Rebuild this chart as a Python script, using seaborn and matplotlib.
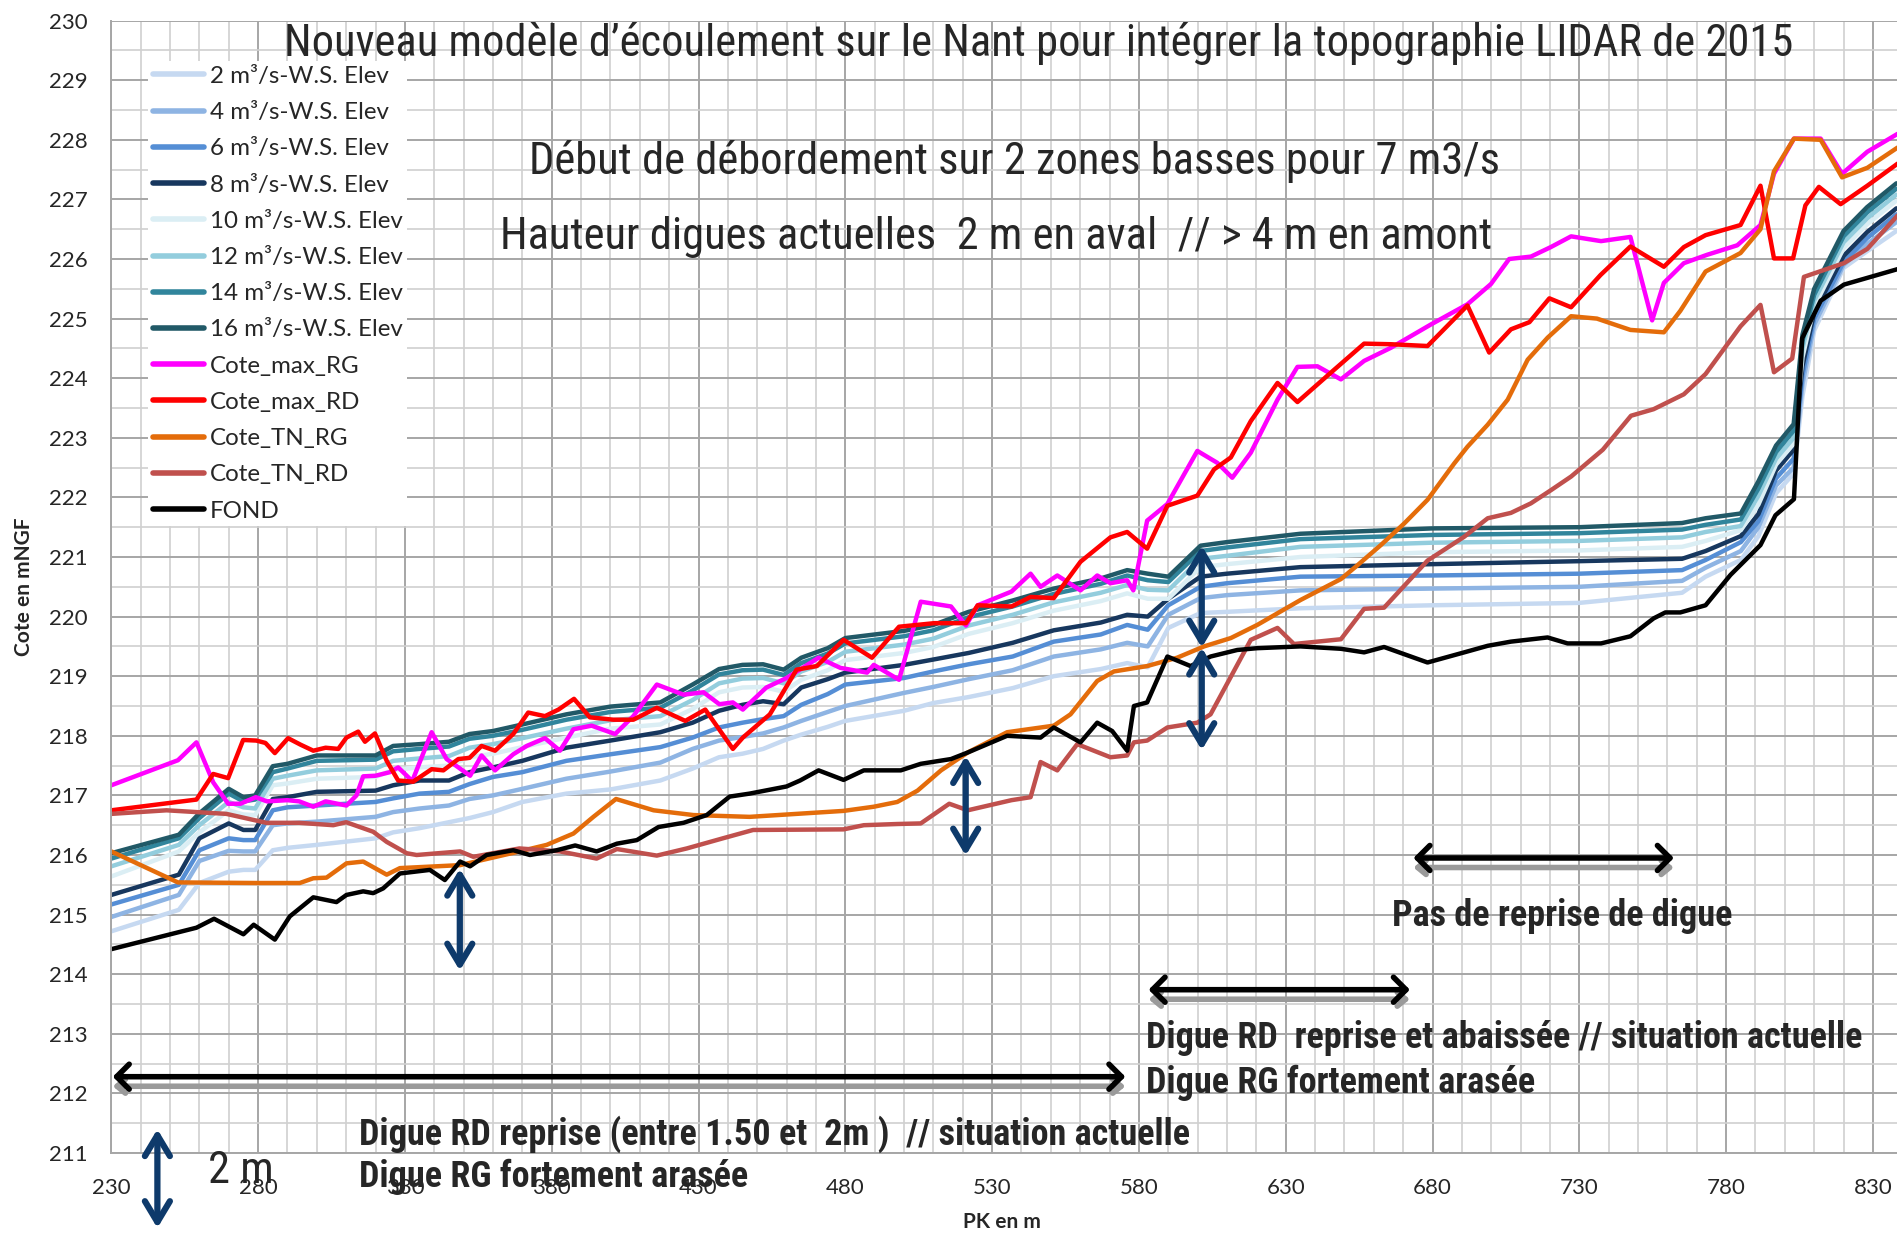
import matplotlib
matplotlib.use("Agg")
import matplotlib.pyplot as plt
import seaborn as sns
import numpy as np

# stations des lignes d'eau (HEC-RAS)
pk_ws = [230, 253, 260, 270, 275, 279, 285, 290, 300, 320,
         326, 335, 345, 352, 360, 370, 385, 400, 417, 428,
         437, 445, 452, 459, 465, 474, 480, 500, 510, 522,
         537, 551, 567, 576, 583, 590, 601, 610, 635, 680,
         730, 765, 773, 785, 791, 797, 803, 806, 810, 820,
         828, 838]

ws16 = [216.03, 216.34, 216.70, 217.11, 216.97, 217.00, 217.49, 217.53, 217.67, 217.67,
        217.83, 217.86, 217.90, 218.03, 218.08, 218.19, 218.36, 218.49, 218.56, 218.86,
        219.12, 219.19, 219.20, 219.11, 219.31, 219.47, 219.64, 219.76, 219.86, 220.08,
        220.27, 220.47, 220.64, 220.78, 220.72, 220.67, 221.19, 221.25, 221.39, 221.48,
        221.50, 221.57, 221.65, 221.73, 222.27, 222.87, 223.23, 224.73, 225.50, 226.47,
        226.87, 227.27]
ws14 = [215.94, 216.28, 216.62, 217.03, 216.90, 216.93, 217.39, 217.45, 217.58, 217.60,
        217.74, 217.78, 217.82, 217.95, 218.00, 218.10, 218.27, 218.40, 218.47, 218.76,
        219.03, 219.10, 219.11, 219.02, 219.22, 219.38, 219.55, 219.67, 219.77, 219.99,
        220.17, 220.38, 220.55, 220.69, 220.61, 220.58, 221.10, 221.16, 221.30, 221.37,
        221.40, 221.46, 221.54, 221.63, 222.15, 222.76, 223.12, 224.62, 225.40, 226.38,
        226.78, 227.18]
ws12 = [215.81, 216.17, 216.50, 216.89, 216.80, 216.78, 217.28, 217.33, 217.42, 217.45,
        217.58, 217.62, 217.66, 217.80, 217.86, 217.96, 218.12, 218.26, 218.33, 218.60,
        218.88, 218.96, 218.97, 218.88, 219.08, 219.24, 219.41, 219.53, 219.63, 219.85,
        220.03, 220.24, 220.40, 220.53, 220.45, 220.44, 220.97, 221.02, 221.17, 221.24,
        221.27, 221.33, 221.42, 221.52, 222.03, 222.65, 223.00, 224.50, 225.30, 226.28,
        226.68, 227.08]
ws10 = [215.64, 216.06, 216.38, 216.75, 216.68, 216.67, 217.17, 217.20, 217.28, 217.31,
        217.43, 217.47, 217.50, 217.64, 217.70, 217.81, 217.97, 218.12, 218.19, 218.45,
        218.73, 218.81, 218.82, 218.74, 218.94, 219.10, 219.27, 219.39, 219.49, 219.71,
        219.89, 220.10, 220.26, 220.39, 220.30, 220.30, 220.83, 220.88, 221.00, 221.08,
        221.11, 221.17, 221.27, 221.45, 221.88, 222.55, 222.90, 224.35, 225.20, 226.18,
        226.58, 226.98]
ws8 = [215.33, 215.67, 216.28, 216.53, 216.42, 216.42, 216.94, 216.97, 217.06, 217.08,
       217.17, 217.25, 217.25, 217.39, 217.47, 217.58, 217.80, 217.92, 218.06, 218.22,
       218.42, 218.52, 218.58, 218.53, 218.81, 218.95, 219.06, 219.19, 219.28, 219.39,
       219.56, 219.77, 219.90, 220.03, 220.00, 220.30, 220.67, 220.72, 220.83, 220.88,
       220.93, 220.97, 221.10, 221.35, 221.72, 222.45, 222.80, 224.20, 225.10, 226.05,
       226.45, 226.85]
ws6 = [215.17, 215.50, 216.08, 216.28, 216.25, 216.25, 216.75, 216.80, 216.83, 216.89,
       216.95, 217.03, 217.06, 217.19, 217.31, 217.39, 217.58, 217.69, 217.81, 217.97,
       218.14, 218.22, 218.28, 218.33, 218.52, 218.70, 218.86, 218.97, 219.08, 219.20,
       219.33, 219.58, 219.70, 219.86, 219.78, 220.19, 220.50, 220.56, 220.67, 220.69,
       220.72, 220.78, 220.95, 221.25, 221.60, 222.32, 222.65, 224.05, 225.00, 225.95,
       226.35, 226.75]
ws4 = [214.96, 215.33, 215.90, 216.07, 216.06, 216.06, 216.50, 216.53, 216.56, 216.64,
       216.72, 216.78, 216.83, 216.94, 217.00, 217.11, 217.28, 217.40, 217.55, 217.78,
       217.92, 217.98, 218.04, 218.14, 218.25, 218.40, 218.50, 218.72, 218.82, 218.95,
       219.10, 219.33, 219.45, 219.56, 219.50, 220.03, 220.31, 220.36, 220.44, 220.47,
       220.50, 220.60, 220.82, 221.10, 221.50, 222.20, 222.50, 223.90, 224.90, 225.90,
       226.25, 226.62]
ws2 = [214.72, 215.08, 215.53, 215.72, 215.75, 215.75, 216.08, 216.12, 216.17, 216.28,
       216.38, 216.45, 216.55, 216.62, 216.72, 216.89, 217.03, 217.10, 217.25, 217.45,
       217.64, 217.70, 217.78, 217.92, 218.02, 218.15, 218.25, 218.42, 218.55, 218.65,
       218.80, 219.00, 219.12, 219.22, 219.15, 219.81, 220.06, 220.08, 220.14, 220.19,
       220.23, 220.40, 220.67, 220.95, 221.35, 222.07, 222.40, 223.70, 224.80, 225.85,
       226.13, 226.47]

max_rg_pk = [230, 252.7, 259, 264.7, 269.8, 274, 279.2, 283, 290, 294,
             298.8, 303, 310.1, 313.5, 315.8, 320, 324.9, 327.7, 332.5, 339.1,
             344.2, 352.2, 356.1, 360.7, 366.9, 371.5, 377.7, 382.8, 387.4, 393.6,
             401.6, 407.8, 415.8, 424.9, 431.7, 437.1, 441.7, 445.1, 453.1, 460,
             470.9, 478.3, 487.4, 489.7, 498.3, 505.7, 516, 521.1, 525.1, 536.6,
             543.1, 546.5, 552.2, 560.1, 565.8, 570.3, 576, 578.1, 582.8, 589.7,
             599.9, 606.7, 611.8, 618.1, 627.2, 634, 640.8, 648.8, 656.7, 665.8,
             679.4, 691.9, 699.9, 706.1, 713.5, 720.3, 727.2, 737.4, 747.4, 754.8,
             758.8, 765.6, 773.5, 783.8, 791.7, 796.3, 803.1, 812.2, 819.5, 828.1,
             838.4]
max_rg = [217.17, 217.59, 217.89, 217.22, 216.86, 216.86, 216.97, 216.90, 216.92, 216.90,
          216.81, 216.90, 216.83, 217.00, 217.32, 217.33, 217.39, 217.47, 217.24, 218.06,
          217.61, 217.33, 217.67, 217.42, 217.69, 217.83, 217.96, 217.75, 218.11, 218.17,
          218.03, 218.33, 218.86, 218.69, 218.73, 218.53, 218.56, 218.44, 218.81, 218.97,
          219.31, 219.14, 219.06, 219.19, 218.94, 220.25, 220.17, 219.85, 220.19, 220.42,
          220.72, 220.50, 220.69, 220.44, 220.69, 220.56, 220.61, 220.44, 221.61, 221.89,
          222.78, 222.58, 222.33, 222.75, 223.64, 224.19, 224.20, 223.98, 224.29, 224.51,
          224.90, 225.24, 225.58, 226.00, 226.04, 226.20, 226.38, 226.30, 226.37, 224.97,
          225.60, 225.93, 226.07, 226.23, 226.57, 227.43, 228.02, 228.02, 227.43, 227.80,
          228.10]

max_rd_pk = [230, 259, 264.7, 269.8, 274.9, 279.4, 282.5, 285.7, 290.2, 294.5,
             298.8, 303, 307.3, 310.1, 314.1, 316.4, 319.8, 323.8, 327.7, 332.8,
             339.1, 343.1, 348.2, 352, 356.1, 360.7, 366.9, 372, 377.7, 382.3,
             387.6, 393, 401, 407.8, 415.8, 425.5, 432.3, 441.7, 445.1, 454.3,
             463.4, 470.3, 479.4, 489.1, 498.3, 510.3, 521.1, 525.1, 536.6, 543.1,
             551, 560.1, 570.3, 576, 582.8, 589.7, 599.9, 605.6, 611.3, 618.1,
             627.2, 634, 645.3, 656.7, 665.8, 678.3, 691.9, 699.3, 706.7, 713,
             719.8, 727.2, 737.2, 747.4, 758.8, 765.6, 773, 784.9, 791.7, 796.3,
             802.8, 807, 811.6, 819, 828.1, 838.4]
max_rd = [216.75, 216.93, 217.36, 217.29, 217.93, 217.92, 217.88, 217.71, 217.96, 217.85,
          217.75, 217.80, 217.78, 217.97, 218.07, 217.90, 218.04, 217.58, 217.25, 217.23,
          217.44, 217.42, 217.61, 217.63, 217.83, 217.75, 218.03, 218.39, 218.33, 218.44,
          218.62, 218.31, 218.27, 218.27, 218.47, 218.25, 218.44, 217.78, 217.97, 218.36,
          219.11, 219.17, 219.61, 219.31, 219.83, 219.89, 219.89, 220.19, 220.17, 220.33,
          220.31, 220.92, 221.33, 221.42, 221.14, 221.86, 222.03, 222.47, 222.67, 223.28,
          223.92, 223.60, 224.09, 224.58, 224.57, 224.54, 225.22, 224.43, 224.82, 224.94,
          225.34, 225.19, 225.73, 226.21, 225.87, 226.20, 226.40, 226.57, 227.23, 226.01,
          226.01, 226.90, 227.21, 226.92, 227.23, 227.60]

tn_rg_pk = [230, 252.7, 279.4, 294.2, 298.8, 303.3, 310.1, 315.8, 323.8, 328.3,
            348.8, 369, 378.3, 387.4, 394.2, 401.9, 414.7, 428.3, 447.4, 479.4,
            489.7, 497.7, 504.6, 512.6, 521.7, 535.1, 551, 556.7, 565.8, 571.5,
            582.8, 593, 602.2, 611.3, 620.3, 635.1, 648.8, 654.4, 662.4, 670.3,
            678.3, 687.4, 691.9, 698.8, 705.6, 712.4, 719.2, 727.2, 736, 747.4,
            758.8, 764.4, 773, 784.9, 791.7, 796.3, 803.1, 812.2, 819.5, 828.1, 838.4]
tn_rg = [216.06, 215.54, 215.53, 215.53, 215.61, 215.62, 215.86, 215.89, 215.67, 215.78,
         215.83, 216.06, 216.17, 216.36, 216.64, 216.94, 216.75, 216.67, 216.64, 216.74,
         216.81, 216.89, 217.08, 217.42, 217.72, 218.06, 218.17, 218.36, 218.92, 219.08,
         219.17, 219.31, 219.50, 219.64, 219.86, 220.28, 220.63, 220.86, 221.20, 221.56,
         221.96, 222.57, 222.85, 223.22, 223.64, 224.31, 224.68, 225.04, 225.00, 224.81,
         224.77, 225.13, 225.79, 226.10, 226.50, 227.47, 228.02, 228.00, 227.37, 227.53, 227.87]

tn_rd_pk = [230, 248.8, 269.2, 282.8, 294, 305.6, 310, 319.2, 323.8, 330.6,
            334, 348.8, 353.3, 369, 382.8, 395.3, 402.2, 415.8, 426, 438.3,
            448.6, 479.4, 486.3, 497.7, 505.7, 515.4, 521.7, 536.6, 543.1, 546.5,
            552.2, 559, 570.3, 576, 578.3, 582.8, 589.7, 599.9, 604.4, 618.1,
            627.2, 632.8, 648.8, 656.7, 663.5, 678.3, 690.8, 698.8, 706.7, 713.5,
            720.3, 727.2, 738, 747.6, 755.3, 765.6, 773, 784.9, 791.7, 796.3,
            802.5, 806.5, 820.1, 828.1, 838.4]
tn_rd = [216.69, 216.75, 216.69, 216.54, 216.54, 216.50, 216.55, 216.39, 216.22, 216.03,
         216.00, 216.06, 215.97, 216.11, 216.06, 215.94, 216.10, 215.99, 216.11, 216.28,
         216.42, 216.43, 216.50, 216.52, 216.53, 216.86, 216.75, 216.92, 216.97, 217.56,
         217.42, 217.86, 217.64, 217.67, 217.89, 217.92, 218.14, 218.22, 218.36, 219.61,
         219.81, 219.54, 219.62, 220.13, 220.15, 220.94, 221.34, 221.65, 221.74, 221.90,
         222.12, 222.35, 222.80, 223.37, 223.48, 223.73, 224.07, 224.87, 225.23, 224.10,
         224.33, 225.70, 225.93, 226.17, 226.73]

fond_pk = [230, 259, 265, 275, 278.5, 285.7, 290.8, 298.8, 306.7, 310.1,
           315.8, 319.2, 322.6, 328.3, 338.5, 343.6, 348.8, 352.2, 357.8, 366.9,
           372.6, 381.7, 388, 395.3, 402.2, 409, 416.4, 424.9, 432.8, 440.6,
           447.4, 460, 464.6, 470.9, 479.4, 486.3, 498.9, 505.7, 516, 521.7,
           535.1, 546.5, 551, 560.1, 565.8, 570.9, 576, 578.3, 582.8, 589.7,
           597.6, 604.4, 613.5, 620.3, 635, 648.8, 656.7, 663.5, 678.3, 690.8,
           698.8, 706.7, 719.2, 726, 737.4, 747.4, 755.3, 759.3, 764.4, 773,
           781.5, 791.7, 796.8, 803.1, 805.9, 812.2, 820.1, 838.4]
fond = [214.42, 214.78, 214.93, 214.67, 214.83, 214.58, 214.97, 215.29, 215.21, 215.33,
        215.39, 215.36, 215.44, 215.69, 215.75, 215.58, 215.89, 215.81, 216.00, 216.08,
        216.00, 216.08, 216.16, 216.06, 216.19, 216.25, 216.47, 216.54, 216.67, 216.98,
        217.03, 217.15, 217.25, 217.42, 217.26, 217.42, 217.42, 217.53, 217.61, 217.72,
        218.00, 217.97, 218.14, 217.89, 218.22, 218.08, 217.75, 218.50, 218.56, 219.33,
        219.17, 219.33, 219.44, 219.47, 219.50, 219.46, 219.40, 219.49, 219.23, 219.40,
        219.51, 219.58, 219.65, 219.55, 219.55, 219.67, 219.97, 220.07, 220.07, 220.19,
        220.70, 221.20, 221.70, 221.97, 224.67, 225.30, 225.57, 225.83]

series = [
    ("2 m³/s-W.S. Elev", pk_ws, ws2, "#c6d9f1"),
    ("4 m³/s-W.S. Elev", pk_ws, ws4, "#8eb4e3"),
    ("6 m³/s-W.S. Elev", pk_ws, ws6, "#558ed5"),
    ("8 m³/s-W.S. Elev", pk_ws, ws8, "#17375e"),
    ("10 m³/s-W.S. Elev", pk_ws, ws10, "#dbeef4"),
    ("12 m³/s-W.S. Elev", pk_ws, ws12, "#93cddd"),
    ("14 m³/s-W.S. Elev", pk_ws, ws14, "#31859c"),
    ("16 m³/s-W.S. Elev", pk_ws, ws16, "#215967"),
    ("Cote_max_RG", max_rg_pk, max_rg, "#ff00ff"),
    ("Cote_max_RD", max_rd_pk, max_rd, "#ff0000"),
    ("Cote_TN_RG", tn_rg_pk, tn_rg, "#e46c0a"),
    ("Cote_TN_RD", tn_rd_pk, tn_rd, "#c0504d"),
    ("FOND", fond_pk, fond, "#000000"),
]

sns.set_style("white")
plt.rcParams['font.family'] = ['Lato', 'DejaVu Sans']
narrow = ['Liberation Sans Narrow', 'Roboto Condensed', 'DejaVu Sans']

fig = plt.figure(figsize=(18.97, 12.34), dpi=100)
ax = fig.add_axes([111.3 / 1897, 1 - 1153 / 1234, 1 - 111.3 / 1897, (1153 - 20.6) / 1234])

for lab, x, y, c in series:
    sns.lineplot(x=x, y=y, ax=ax, color=c, lw=3.2, label=lab, estimator=None, sort=False)

ax.set_xlim(230, 838.2)
ax.set_ylim(211, 230)
ax.set_xticks(range(230, 831, 50))
ax.set_xticks(range(230, 839, 10), minor=True)
ax.set_yticks(range(211, 231))
ax.set_yticks(np.arange(211, 230.01, 0.5), minor=True)
ax.grid(which='major', color='#a6a6a6', lw=1.4)
ax.grid(which='minor', color='#d0d0d0', lw=1.2)
ax.set_axisbelow(True)
ax.tick_params(axis='y', which='major', length=6, width=1.4, color='#a6a6a6', labelsize=16, pad=11)
ax.tick_params(axis='x', which='major', length=0, labelsize=16, pad=18)
ax.tick_params(which='minor', length=0)
for s in ['top', 'right']:
    ax.spines[s].set_visible(False)
for s in ['left', 'bottom']:
    ax.spines[s].set_color('#a6a6a6')
    ax.spines[s].set_linewidth(1.4)
ax.set_xlabel("")
ax.set_ylabel("")

leg = ax.legend(loc='upper left', bbox_to_anchor=(148 / 1897, 1 - 61 / 1234),
                bbox_transform=fig.transFigure, frameon=True, fancybox=False,
                facecolor='white', edgecolor='none', framealpha=1,
                fontsize=17.4, handlelength=2.1, handletextpad=0.25,
                labelspacing=0.63, borderpad=0.2, borderaxespad=0)
for h in leg.get_lines():
    h.set_linewidth(4)

fig.text(0.0127, 1 - 587 / 1234, "Cote en mNGF", rotation=90, ha='center', va='center',
         fontsize=15, fontweight='bold')
fig.text(1002 / 1897, 1 - 1222 / 1234, "PK en m", ha='center', va='center',
         fontsize=15, fontweight='bold')

# textes
reg_txt = dict(family=narrow, fontstretch='condensed', fontsize=32, ha='left', va='center')
ax.text(288.8, 229.62, "Nouveau modèle d’écoulement sur le Nant pour intégrer la topographie LIDAR de 2015",
        **reg_txt)
ax.text(372.3, 227.64, "Début de débordement sur 2 zones basses pour 7 m3/s", **reg_txt)
ax.text(362.4, 226.37, "Hauteur digues actuelles  2 m en aval  // > 4 m en amont", **reg_txt)
bold_txt = dict(family=narrow, fontstretch='condensed', fontsize=26, fontweight='bold',
                ha='left', va='center')
ax.text(666.2, 214.98, "Pas de reprise de digue", **bold_txt)
ax.text(582.4, 212.93, "Digue RD  reprise et abaissée // situation actuelle", **bold_txt)
ax.text(582.4, 212.18, "Digue RG fortement arasée", **bold_txt)
ax.text(314.3, 211.32, "Digue RD reprise (entre 1.50 et  2m )  // situation actuelle", **bold_txt)
ax.text(314.3, 210.6, "Digue RG fortement arasée", **bold_txt)
ax.text(263, 210.7, "2 m", family=narrow, fontstretch='condensed', fontsize=32, ha='left', va='center')

# fleches horizontales (noires + ombre grise)
for x1, x2, y in [(673.5, 762.2, 215.95), (583.3, 672.3, 213.74), (230.5, 575.4, 212.28)]:
    ax.annotate("", xy=(x2, y - 0.16), xytext=(x1, y - 0.16), annotation_clip=False,
                arrowprops=dict(arrowstyle='<->,head_length=0.3,head_width=0.25',
                                color='#9a9a9a', lw=4, mutation_scale=20, shrinkA=0, shrinkB=0))
    ax.annotate("", xy=(x2, y), xytext=(x1, y), annotation_clip=False,
                arrowprops=dict(arrowstyle='<->,head_length=0.45,head_width=0.45',
                                color='black', lw=4, mutation_scale=20, shrinkA=0, shrinkB=0))

# fleches verticales bleues
for x, y1, y2 in [(348.7, 215.77, 214.06), (521.0, 217.66, 215.99), (601.4, 221.19, 219.48),
                  (601.4, 219.48, 217.76), (245.7, 211.4, 209.74)]:
    ax.annotate("", xy=(x, y2), xytext=(x, y1), annotation_clip=False,
                arrowprops=dict(arrowstyle='<->,head_length=0.75,head_width=0.45',
                                color='#0e3a6b', lw=4.5, mutation_scale=20, shrinkA=0, shrinkB=0))

fig.savefig("out.png", dpi=100)
